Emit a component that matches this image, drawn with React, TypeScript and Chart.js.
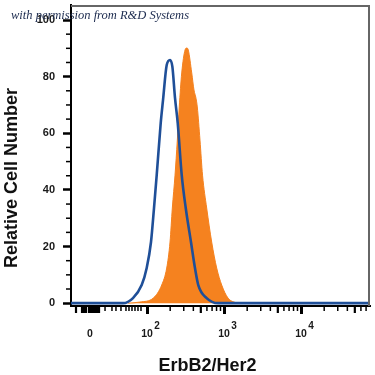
import React, { useEffect, useRef } from "react";
import { Chart, registerables } from "chart.js";

Chart.register(...registerables);

// Display units: 2 = 10^2, 3 = 10^3, 4 = 10^4 (biexponential display axis)
const isotypeX = [1.013, 1.688, 1.818, 1.931, 1.996, 2.052, 2.091, 2.126, 2.178, 2.208, 2.256, 2.299, 2.329, 2.364, 2.399, 2.451, 2.503, 2.571, 2.623, 2.666, 2.775, 2.922, 4.896];
const isotypeY = [0, 0, 1.8, 6.4, 12.4, 21.6, 33.6, 45.2, 63.6, 71.7, 84.1, 85.9, 83.6, 72.4, 63.6, 45.2, 33.6, 21.6, 12.4, 6.4, 1.8, 0, 0];

const stainedX = [1.753, 1.909, 2.082, 2.191, 2.256, 2.299, 2.329, 2.364, 2.394, 2.419, 2.451, 2.494, 2.516, 2.536, 2.581, 2.61, 2.636, 2.653, 2.688, 2.721, 2.775, 2.84, 2.905, 2.97, 3.052, 3.165];
const stainedY = [0, 0.4, 1.8, 6.4, 12.4, 21.6, 33.6, 45.2, 57.6, 69.3, 81.3, 89.4, 90.1, 89.4, 81.3, 75.3, 72.4, 69.3, 57.6, 45.2, 33.6, 21.6, 12.4, 6.4, 1.8, 0];

const yMajorTicks = [0, 20, 40, 60, 80, 100];
const yMinorTicks = [5, 10, 15, 25, 30, 35, 45, 50, 55, 65, 70, 75, 85, 90, 95];

const xMajorTicks = [2, 3, 4];
const xLabelPositions = [1.26, 2, 3, 4];
const xLabelBases = ["0", "10", "10", "10"];
const xLabelExps = ["", "2", "3", "4"];
const xClusterTicks = [1.078, 1.156, 1.182, 1.208, 1.247, 1.273, 1.299, 1.325, 1.351, 1.377];
const xLinearMinorTicks = [1.455, 1.545, 1.597, 1.662, 1.727, 1.766, 1.805, 1.844, 1.883, 1.922];
const xLogMultipliers = [2, 3, 4, 5, 6, 7, 8, 9];

const X_MIN = 1.013;
const X_MAX = 4.896;
const Y_MIN = -1;
const Y_MAX = 105.3;

const BLUE = "#1f4f98";
const ORANGE = "#f5821f";

const decorPlugin = {
  id: "decor",
  beforeDraw(chart: any) {
    const { ctx, width, height } = chart;
    ctx.save();
    ctx.fillStyle = "#ffffff";
    ctx.fillRect(0, 0, width, height);
    ctx.restore();
  },
  afterDraw(chart: any) {
    const { ctx, chartArea } = chart;
    const x = chart.scales.x;
    const y = chart.scales.y;
    ctx.save();
    // frame top & right
    ctx.strokeStyle = "#666666";
    ctx.lineWidth = 2;
    ctx.beginPath();
    ctx.moveTo(chartArea.left, chartArea.top + 1);
    ctx.lineTo(chartArea.right - 1, chartArea.top + 1);
    ctx.lineTo(chartArea.right - 1, chartArea.bottom);
    ctx.stroke();

    // y minor ticks
    ctx.strokeStyle = "#000";
    ctx.lineWidth = 1.5;
    for (const v of yMinorTicks) {
      const py = y.getPixelForValue(v);
      ctx.beginPath();
      ctx.moveTo(chartArea.left - 1, py);
      ctx.lineTo(chartArea.left - 5, py);
      ctx.stroke();
    }

    // x minor ticks
    const base = chartArea.bottom + 1;
    const drawTick = (v: number, len: number, w: number) => {
      const px = x.getPixelForValue(v);
      ctx.lineWidth = w;
      ctx.beginPath();
      ctx.moveTo(px, base);
      ctx.lineTo(px, base + len);
      ctx.stroke();
    };
    for (const v of xClusterTicks) drawTick(v, 6, 2.2);
    for (const v of xLinearMinorTicks) drawTick(v, 4, 1.5);
    for (const d of xMajorTicks) {
      for (const m of xLogMultipliers) {
        const v = d + Math.log10(m);
        if (v < X_MAX) drawTick(v, m === 5 ? 6 : 4, m === 5 ? 2.2 : 1.5);
      }
    }

    // x tick labels with superscript exponents
    ctx.fillStyle = "#1a1a1a";
    ctx.textBaseline = "alphabetic";
    for (let i = 0; i < xLabelPositions.length; i++) {
      const px = x.getPixelForValue(xLabelPositions[i]);
      ctx.font = "bold 10.5px 'Liberation Sans', Arial, sans-serif";
      ctx.textAlign = "center";
      ctx.fillText(xLabelBases[i], px, 337);
      if (xLabelExps[i]) {
        const w = ctx.measureText(xLabelBases[i]).width;
        ctx.font = "bold 10px 'Liberation Sans', Arial, sans-serif";
        ctx.textAlign = "left";
        ctx.fillText(xLabelExps[i], px + w / 2 + 1.5, 328.5);
      }
    }

    // axis titles
    ctx.fillStyle = "#111";
    ctx.font = "bold 18px 'Liberation Sans', Arial, sans-serif";
    ctx.textAlign = "center";
    ctx.fillText("ErbB2/Her2", 207.5, 370.5);

    ctx.save();
    ctx.translate(17, 178);
    ctx.rotate(-Math.PI / 2);
    ctx.fillText("Relative Cell Number", 0, 0);
    ctx.restore();

    // watermark
    ctx.fillStyle = "#1b2a4e";
    ctx.font = "italic 12.5px 'Liberation Serif', 'DejaVu Serif', serif";
    ctx.textAlign = "left";
    ctx.fillText("with permission from R&D Systems", 11, 19);
    ctx.restore();
  },
};

export default function App() {
  const ref = useRef<HTMLCanvasElement | null>(null);

  useEffect(() => {
    if (!ref.current) return;
    const chart = new Chart(ref.current, {
      type: "scatter",
      data: {
        datasets: [
          {
            label: "Isotype",
            data: isotypeX.map((v, i) => ({ x: v, y: isotypeY[i] })),
            showLine: true,
            borderColor: BLUE,
            borderWidth: 2.6,
            pointRadius: 0,
            fill: false,
            cubicInterpolationMode: "monotone",
          },
          {
            label: "ErbB2/Her2",
            data: stainedX.map((v, i) => ({ x: v, y: stainedY[i] })),
            showLine: true,
            borderColor: ORANGE,
            backgroundColor: ORANGE,
            borderWidth: 1,
            pointRadius: 0,
            fill: "origin",
            cubicInterpolationMode: "monotone",
          },
        ],
      } as any,
      options: {
        animation: false,
        responsive: false,
        devicePixelRatio: 1,
        layout: { padding: { top: 5, right: 5, left: 0, bottom: 0 } },
        plugins: { legend: { display: false }, tooltip: { enabled: false } },
        scales: {
          x: {
            type: "linear",
            min: X_MIN,
            max: X_MAX,
            afterBuildTicks: (axis: any) => {
              axis.ticks = xMajorTicks.map((v) => ({ value: v }));
            },
            afterFit: (axis: any) => {
              axis.height = 69;
              axis.paddingLeft = 0;
              axis.paddingRight = 0;
              axis.paddingTop = 0;
              axis.paddingBottom = 0;
            },
            ticks: { display: false },
            grid: {
              drawOnChartArea: false,
              drawTicks: true,
              tickLength: 8,
              tickWidth: 3,
              tickColor: "#000",
            },
            border: { display: true, color: "#000", width: 2 },
          },
          y: {
            type: "linear",
            min: Y_MIN,
            max: Y_MAX,
            afterBuildTicks: (axis: any) => {
              axis.ticks = yMajorTicks.map((v) => ({ value: v }));
            },
            afterFit: (axis: any) => {
              axis.width = 71;
              axis.paddingLeft = 0;
              axis.paddingRight = 0;
              axis.paddingTop = 0;
              axis.paddingBottom = 0;
            },
            ticks: {
              padding: 8,
              color: "#1a1a1a",
              font: { family: "'Liberation Sans', Arial, sans-serif", weight: "bold", size: 11 },
            },
            grid: {
              drawOnChartArea: false,
              drawTicks: true,
              tickLength: 8,
              tickWidth: 2.5,
              tickColor: "#000",
            },
            border: { display: true, color: "#000", width: 2 },
          },
        },
      } as any,
      plugins: [decorPlugin],
    });
    return () => chart.destroy();
  }, []);

  return (
    <div style={{ position: "fixed", left: 0, top: 0, width: 375, height: 375, background: "#fff" }}>
      <canvas ref={ref} width={375} height={375} style={{ display: "block", width: 375, height: 375 }} />
    </div>
  );
}
